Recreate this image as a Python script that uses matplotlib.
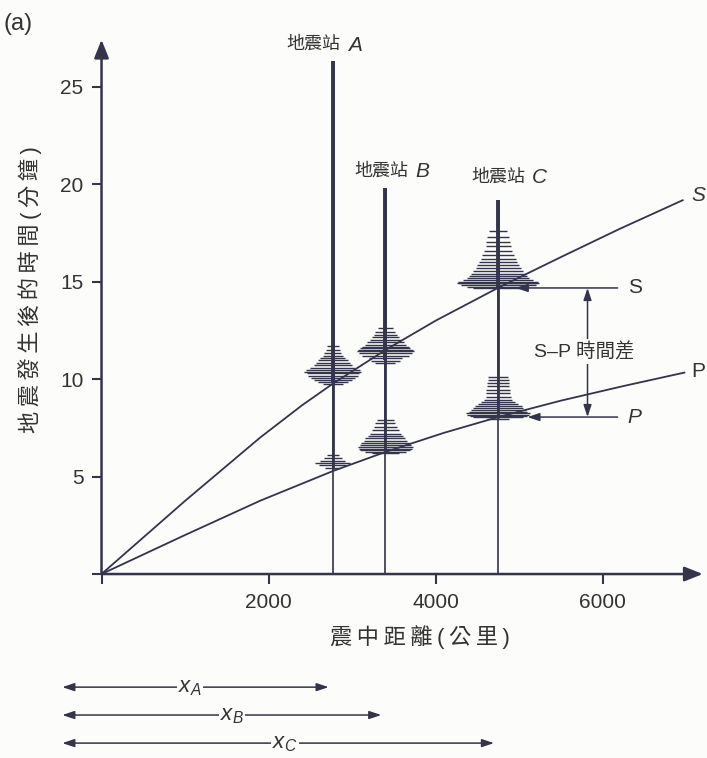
import matplotlib.pyplot as plt

plt.rcParams['font.family'] = ['Liberation Sans', 'Noto Sans CJK TC', 'DejaVu Sans']
plt.rcParams['mathtext.fontset'] = 'custom'
plt.rcParams['mathtext.it'] = 'Liberation Sans:italic'
plt.rcParams['mathtext.rm'] = 'Liberation Sans'

# travel-time curves: distance (km) -> minutes after the quake
s_dist = [0, 1000, 1900, 2400, 2770, 3400, 4000, 4750, 5490, 6200, 6960]
s_time = [0, 3.75, 7.0, 8.65, 9.76, 11.49, 12.99, 14.68, 16.23, 17.69, 19.17]
p_dist = [0, 1000, 1900, 2770, 3400, 4100, 4750, 5500, 6250, 6980]
p_time = [0, 2.0, 3.76, 5.28, 6.26, 7.24, 8.05, 8.89, 9.64, 10.33]

# seismograph stations
stations = ['A', 'B', 'C']
station_dist = [2770, 3400, 4750]
trace_top = [26.3, 19.8, 19.2]
p_arrival = [5.4, 6.2, 8.0]
s_arrival = [9.8, 11.0, 14.6]

# wiggles of each record: time (min) and half swing (km on the x scale)
a_wig_t = [5.45, 5.58, 5.69, 5.82, 5.95, 6.1,
           9.75, 9.85, 9.95, 10.05, 10.18, 10.3, 10.38, 10.46, 10.58, 10.7,
           10.83, 10.97, 11.08, 11.2, 11.35, 11.5, 11.7]
a_wig_w = [90, 160, 210, 150, 110, 70,
           120, 180, 230, 263, 300, 311, 340, 323, 270, 228,
           200, 180, 150, 120, 100, 84, 70]
b_wig_t = [6.2, 6.28, 6.36, 6.43, 6.5, 6.6, 6.7, 6.83, 6.97, 7.08,
           7.2, 7.37, 7.54, 7.72, 7.9,
           10.8, 10.95, 11.08, 11.2, 11.33, 11.42, 11.5, 11.57, 11.64, 11.77,
           11.9, 12.02, 12.15, 12.28, 12.4, 12.6]
b_wig_w = [160, 250, 300, 320, 330, 310, 290, 260, 240, 210,
           190, 160, 140, 120, 100,
           120, 170, 200, 280, 320, 340, 330, 300, 280, 250,
           220, 190, 160, 140, 120, 90]
c_wig_t = [7.95, 8.05, 8.1, 8.18, 8.25, 8.32, 8.4, 8.5, 8.6, 8.7,
           8.8, 8.94, 9.08, 9.26, 9.44, 9.62, 9.8, 9.95, 10.1,
           14.65, 14.7, 14.8, 14.9, 14.95, 15.0, 15.1, 15.2, 15.3, 15.4,
           15.55, 15.7, 15.85, 16.0, 16.17, 16.35, 16.57, 16.8, 17.05, 17.3,
           17.6]
c_wig_w = [130, 300, 340, 370, 380, 350, 330, 300, 280, 240,
           200, 170, 150, 145, 140, 135, 130, 125, 120,
           300, 370, 450, 490, 470, 480, 420, 370, 350, 330,
           300, 270, 250, 230, 210, 190, 170, 150, 140, 130,
           110]
wig_t = [a_wig_t, b_wig_t, c_wig_t]
wig_w = [a_wig_w, b_wig_w, c_wig_w]

# S-P reading at station C
sp_s = 14.67
sp_p = 8.05

xticks = [0, 2000, 4000, 6000]
xticklabels = ['', '2000', '4000', '6000']
yticks = [0, 5, 10, 15, 20, 25]
yticklabels = ['', '5', '10', '15', '20', '25']

ink = '#34344a'
txt = '#333333'
bg = '#fcfcfa'

fig = plt.figure(figsize=(7.07, 7.58), dpi=100, facecolor=bg)
ax = fig.add_axes([0.1436, 0.2427, 0.8504, 0.7049])
ax.set_facecolor(bg)
ax.set_xlim(0, 7200)
ax.set_ylim(0, 27.4)
for sp in ax.spines.values():
    sp.set_visible(False)
ax.set_xticks(xticks)
ax.set_xticklabels(xticklabels)
ax.set_yticks(yticks)
ax.set_yticklabels(yticklabels)
ax.tick_params(direction='out', length=7, width=1.5, color=ink,
               labelsize=15, labelcolor=txt)
ax.tick_params(axis='x', pad=7)
ax.tick_params(axis='y', pad=6)

big = dict(arrowstyle='-|>,head_length=0.55,head_width=0.22', color=ink,
           lw=1.8, mutation_scale=20, shrinkA=0, shrinkB=0)
ax.annotate('', xy=(7200, 0), xytext=(0, 0), arrowprops=big, annotation_clip=False)
ax.annotate('', xy=(0, 27.4), xytext=(0, 0), arrowprops=big, annotation_clip=False)

# travel-time curves
ax.plot(s_dist, s_time, color=ink, lw=1.3, clip_on=False)
ax.plot(p_dist, p_time, color=ink, lw=1.3, clip_on=False)
ax.text(7060, 19.4, 'S', fontsize=15, style='italic', color=txt, va='center')
ax.text(7060, 10.4, 'P', fontsize=15, color=txt, va='center')

# seismograms
label_pos = [(2916, 27.2), (3730, 20.7), (5120, 20.4)]
for i, name in enumerate(stations):
    d = station_dist[i]
    ax.vlines(d, 0, trace_top[i], color=ink, lw=1.2)
    ax.vlines(d, p_arrival[i], trace_top[i], color=ink, lw=2.0)
    ax.vlines(d, s_arrival[i], trace_top[i], color=ink, lw=2.8)
    w = wig_w[i]
    ax.hlines(wig_t[i], [d - v for v in w], [d + v for v in w], color=ink, lw=1.0)
    lx, ly = label_pos[i]
    ax.annotate('地震站', xy=(lx, ly), xytext=(-3, 0), textcoords='offset points',
                ha='right', va='center', fontsize=13, color=txt,
                family='Noto Sans CJK TC')
    ax.annotate(name, xy=(lx, ly), xytext=(2, -1), textcoords='offset points',
                ha='left', va='center', fontsize=15, color=txt, style='italic')

# S-P time difference
small = dict(arrowstyle='-|>,head_length=0.6,head_width=0.2', color=ink,
             lw=1.1, mutation_scale=12, shrinkA=0, shrinkB=0)
both = dict(small, arrowstyle='<|-|>,head_length=0.6,head_width=0.2')
ax.annotate('', xy=(4960, sp_s), xytext=(6180, sp_s), arrowprops=small)
ax.annotate('', xy=(5100, sp_p), xytext=(6180, sp_p), arrowprops=small)
ax.annotate('', xy=(5820, sp_s), xytext=(5820, sp_p), arrowprops=both)
ax.text(6300, sp_s, 'S', fontsize=15, color=txt, va='center')
ax.text(6300, sp_p, 'P', fontsize=15, color=txt, va='center', style='italic')
ax.text(5780, 11.4, 'S–P 時間差', fontsize=14, color=txt, ha='center', va='center',
        bbox=dict(facecolor=bg, edgecolor='none', pad=2))

# epicentral distance arrows under the chart
dist_rows = [-5.8, -7.23, -8.67]
dist_lab_x = [1060, 1563, 2198]
for i, name in enumerate(stations):
    ax.annotate('', xy=(station_dist[i] - 50, dist_rows[i]), xytext=(-470, dist_rows[i]),
                arrowprops=both, annotation_clip=False)
    ax.text(dist_lab_x[i], dist_rows[i], '$x_{%s}$' % name, fontsize=16, color=txt,
            ha='center', va='center', clip_on=False,
            bbox=dict(facecolor=bg, edgecolor='none', pad=1))

fig.text(0.005, 0.968, '(a)', fontsize=17, color=txt, va='center')
fig.text(0.594, 0.1596, '\u2009'.join('震中距離(公里)'), fontsize=16, color=txt,
         ha='center', va='center')
fig.text(0.0424, 0.6174, '\u2009'.join('地震發生後的時間(分鐘)'), fontsize=16,
         color=txt, ha='center', va='center', rotation=90)

fig.savefig('out.png', dpi=100, facecolor=bg)
